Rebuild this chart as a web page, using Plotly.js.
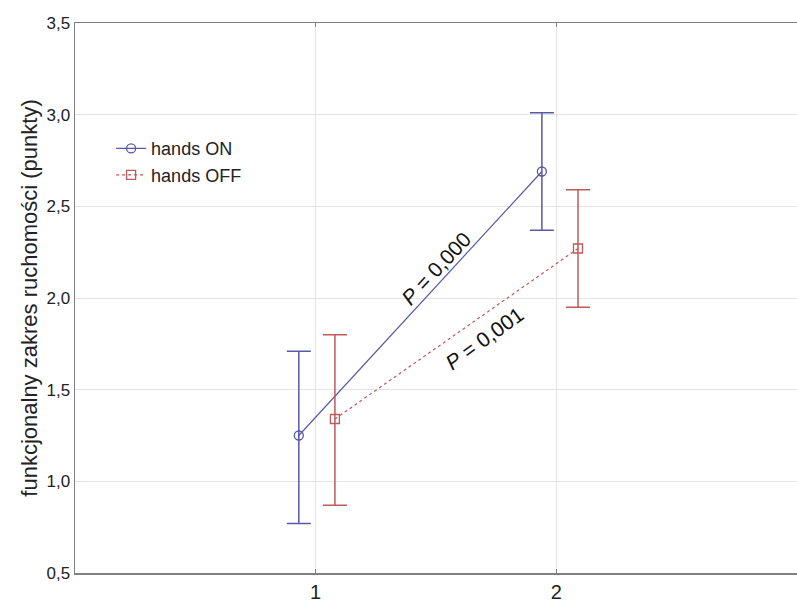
<!DOCTYPE html>
<html>
<head>
<meta charset="utf-8">
<script src="https://cdn.plot.ly/plotly-3.0.1.min.js"></script>
<style>html,body{margin:0;padding:0;background:#fff;}#chart{width:797px;height:603px;}</style>
</head>
<body>
<div id="chart"></div>
<script>
// Data
var seriesNames = ["hands ON", "hands OFF"];
var onX = [0.93, 1.94];
var onY = [1.25, 2.69];
var onUpper = [1.71, 3.01];
var onLower = [0.77, 2.37];
var offX = [1.08, 2.09];
var offY = [1.34, 2.27];
var offUpper = [1.80, 2.59];
var offLower = [0.87, 1.95];
var xTickVals = [1, 2];
var xTickText = ["1", "2"];
var yTickVals = [0.5, 1.0, 1.5, 2.0, 2.5, 3.0, 3.5];
var pLabels = ["P = 0,000", "P = 0,001"];

function diff(a, b) { return a.map(function (v, i) { return v - b[i]; }); }

var blue = "#5858a8";
var red = "#c05a5a";

var traces = [
  {
    x: onX, y: onY, name: seriesNames[0], type: "scatter", mode: "lines+markers",
    line: {color: blue, width: 1.2},
    marker: {symbol: "circle-open", size: 9, color: blue, line: {width: 1.3, color: blue}},
    error_y: {type: "data", symmetric: false, array: diff(onUpper, onY), arrayminus: diff(onY, onLower),
      color: blue, thickness: 1.5, width: 12}
  },
  {
    x: offX, y: offY, name: seriesNames[1], type: "scatter", mode: "lines+markers",
    line: {color: red, width: 1.2, dash: "3px,3px"},
    marker: {symbol: "square-open", size: 9, color: red, line: {width: 1.3, color: red}},
    error_y: {type: "data", symmetric: false, array: diff(offUpper, offY), arrayminus: diff(offY, offLower),
      color: red, thickness: 1.5, width: 12}
  }
];

var layout = {
  width: 797, height: 603,
  margin: {l: 75, r: 0, t: 23, b: 30},
  paper_bgcolor: "#fff", plot_bgcolor: "#fff",
  separators: ",.",
  font: {family: "Liberation Sans, Arial, sans-serif", color: "#222"},
  showlegend: true,
  legend: {x: 0.05, y: 0.805, xanchor: "left", yanchor: "top", bgcolor: "rgba(0,0,0,0)",
    font: {size: 18, color: "#222"}, itemwidth: 30},
  xaxis: {
    range: [0, 3], tickvals: xTickVals, ticktext: xTickText,
    showgrid: true, gridcolor: "#e4e4e4", gridwidth: 1,
    showline: true, linecolor: "#808080", linewidth: 1.5, mirror: "ticks",
    ticks: "inside", ticklen: 4, tickcolor: "#808080",
    tickfont: {size: 20, color: "#222"}, zeroline: false
  },
  yaxis: {
    range: [0.5, 3.5], tickvals: yTickVals, tickformat: ".1f",
    showgrid: true, gridcolor: "#e4e4e4", gridwidth: 1,
    showline: true, linecolor: "#808080", linewidth: 1.5,
    ticks: "", tickfont: {size: 17, color: "#222"}, zeroline: false,
    title: {text: "funkcjonalny zakres ruchomości (punkty)", font: {size: 22, color: "#222"}, standoff: 3}
  },
  annotations: [
    {x: 1.50, y: 2.16, xref: "x", yref: "y", text: "<i>P</i>" + pLabels[0].slice(1), showarrow: false,
      textangle: -47, font: {size: 21, color: "#111"}},
    {x: 1.70, y: 1.78, xref: "x", yref: "y", text: "<i>P</i>" + pLabels[1].slice(1), showarrow: false,
      textangle: -36, font: {size: 21, color: "#111"}}
  ]
};

Plotly.newPlot("chart", traces, layout, {displayModeBar: false, staticPlot: true});
</script>
</body>
</html>
